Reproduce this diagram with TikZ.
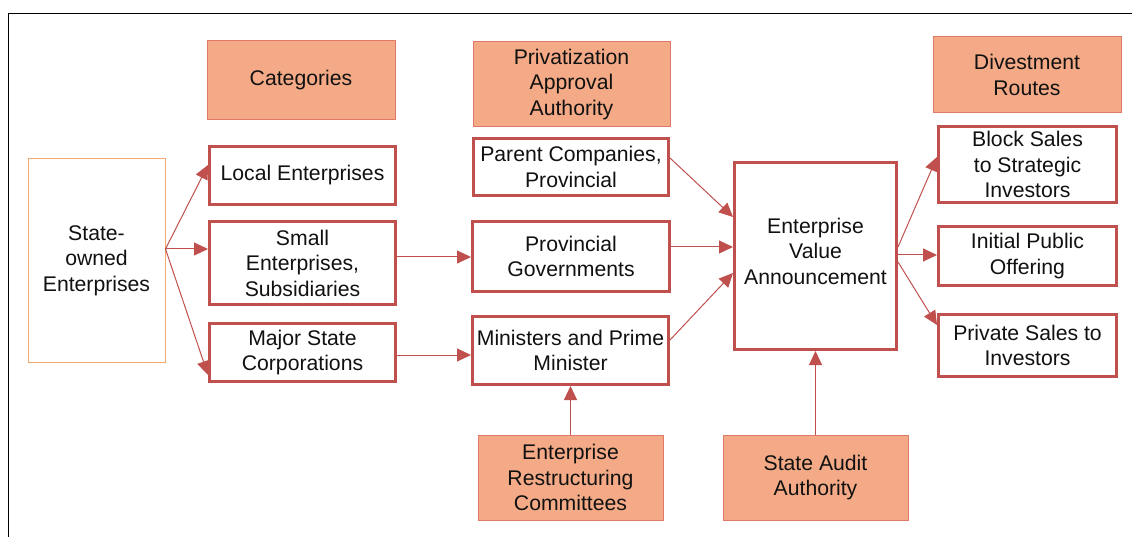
\documentclass[tikz,border=0pt]{standalone}
\usepackage{fontspec}
\setmainfont{Liberation Sans}
\usetikzlibrary{arrows.meta}
\definecolor{redline}{HTML}{C0504D}
\definecolor{salmon}{HTML}{F4AA86}
\definecolor{salmonedge}{HTML}{E07A68}
\definecolor{orangeedge}{HTML}{F7A86E}
\definecolor{txt}{HTML}{111111}
\begin{document}
\begin{tikzpicture}[x=1pt,y=-1pt,
  every node/.style={font=\fontsize{21.2}{25.5}\selectfont, text=txt, align=center, inner sep=0pt},
  redbox/.style={draw=redline, line width=3pt, fill=white},
  hdrbox/.style={draw=salmonedge, line width=1pt, fill=salmon},
  srcbox/.style={draw=orangeedge, line width=1pt, fill=white},
  conn/.style={draw=redline, line width=1pt, -{Triangle[length=14pt,width=13pt]}},
  frameline/.style={draw=black, line width=1.5pt}
]
\useasboundingbox (0,0) rectangle (1132,537);
% frame
\coordinate (ftl) at (8.5,13.5);
\coordinate (ftr) at (1132,13.5);
\coordinate (fbl) at (8.5,537);
\draw[frameline] (ftr) -- (ftl) -- (fbl);

% source
\node[srcbox, minimum width=137pt, minimum height=203pt] (soe) at (96.5,260.5) {State-\\owned\\Enterprises};

% headers
\node[hdrbox, minimum width=188pt, minimum height=79pt] (cat) at (301,80.5) {Categories};
\node[hdrbox, minimum width=197pt, minimum height=85pt] (priv) at (571.5,84.5) {Privatization\\Approval\\Authority};
\node[hdrbox, minimum width=188pt, minimum height=76pt] (div) at (1027,75) {Divestment\\Routes};
\node[hdrbox, minimum width=185pt, minimum height=85pt] (erc) at (570.5,477.5) {Enterprise\\Restructuring\\Committees};
\node[hdrbox, minimum width=185pt, minimum height=85pt] (saa) at (815.5,477.5) {State Audit\\Authority};

% categories
\node[redbox, minimum width=186pt, minimum height=58pt] (local) at (302.5,175.5) {Local Enterprises};
\node[redbox, minimum width=186pt, minimum height=83pt] (small) at (302.5,263) {Small\\Enterprises,\\Subsidiaries};
\node[redbox, minimum width=186pt, minimum height=58pt] (major) at (302.5,352.5) {Major State\\Corporations};

% approval
\node[redbox, minimum width=195pt, minimum height=57pt] (parent) at (571,167) {Parent Companies,\\Provincial};
\node[redbox, minimum width=197pt, minimum height=70pt] (prov) at (571,256.5) {Provincial\\Governments};
\node[redbox, minimum width=196pt, minimum height=68pt] (mins) at (570.5,350.5) {Ministers and Prime\\Minister};

% announcement
\node[redbox, minimum width=162pt, minimum height=187pt] (eva) at (815.5,256) {};
\node (evatext) at (815.5,251) {Enterprise\\Value\\Announcement};

% routes
\node[redbox, minimum width=178pt, minimum height=76pt] (block) at (1027.5,164.5) {Block Sales\\to Strategic\\Investors};
\node[redbox, minimum width=178pt, minimum height=59pt] (ipo) at (1027.5,256) {Initial Public\\Offering};
\node[redbox, minimum width=178pt, minimum height=62pt] (pvt) at (1027.5,345.5) {Private Sales to\\Investors};

% connectors
\coordinate (fork) at ([yshift=11.5pt]soe.east);
\draw[conn] (fork) -- ([yshift=10.5pt]local.west);
\draw[conn] (fork) -- ([yshift=14pt]small.west);
\draw[conn] (fork) -- ([yshift=-22.5pt]major.west);

\draw[conn] ([yshift=6pt]small.east) -- ([yshift=-0.5pt]prov.west);
\draw[conn] ([yshift=-2.5pt]major.east) -- ([yshift=-4.5pt]mins.west);

\draw[conn] ([yshift=9pt]parent.east) -- ([yshift=39pt]eva.west);
\draw[conn] ([yshift=9.5pt]prov.east) -- ([yshift=9pt]eva.west);
\draw[conn] ([yshift=10.5pt]mins.east) -- ([yshift=-17pt]eva.west);

\draw[conn] ([yshift=9pt]eva.east) -- ([yshift=7.5pt]block.west);
\draw[conn] ([yshift=1pt]eva.east) -- ([yshift=1pt]ipo.west);
\draw[conn] ([yshift=-6pt]eva.east) -- ([yshift=20.5pt]pvt.west);

\draw[conn] (erc.north) -- (mins.south);
\draw[conn] (saa.north) -- (eva.south);
\end{tikzpicture}
\end{document}
